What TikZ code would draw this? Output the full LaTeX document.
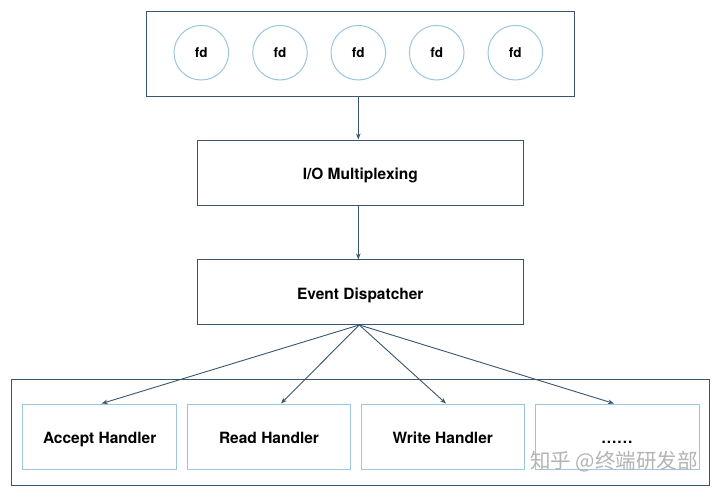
\documentclass[tikz,border=0pt]{standalone}
\usepackage{fontspec}
\setmainfont{TeX Gyre Heros}
\newfontfamily\cjkfont{Noto Sans CJK SC}
\usetikzlibrary{arrows.meta,calc}
\definecolor{darkline}{HTML}{3A5570}
\definecolor{lightline}{HTML}{9CC6DE}
\definecolor{wmgray}{HTML}{B4B4B4}
\begin{document}
\begin{tikzpicture}[x=1pt,y=-1pt,
  darkbox/.style={draw=darkline,line width=1pt,fill=white},
  lightbox/.style={draw=lightline,line width=1pt,fill=white},
  lbl/.style={font=\fontsize{15.5}{18}\selectfont\bfseries,text=black,text height=15pt,text depth=1pt},
  fdcircle/.style={circle,draw=lightline,line width=1pt,minimum size=54.6pt,inner sep=0pt,font=\fontsize{13.5}{16}\selectfont\bfseries},
  arr/.style={draw=darkline,line width=0.9pt,-{Stealth[length=6pt,width=4.5pt]}},
]
\useasboundingbox (0,0) rectangle (720,493);
\fill[white] (0,0) rectangle (720,493);

% top fd container
\node[darkbox,minimum width=428pt,minimum height=85pt,inner sep=0pt] (fdbox) at (360.3,54.2) {};
\node[fdcircle] (fd1) at (201.3,52.7) {fd};
\node[fdcircle] (fd2) at (280,52.7) {fd};
\node[fdcircle] (fd3) at (358.3,52.7) {fd};
\node[fdcircle] (fd4) at (436.7,52.7) {fd};
\node[fdcircle] (fd5) at (515.3,52.7) {fd};

% middle boxes
\node[darkbox,lbl,minimum width=326pt,minimum height=65pt,inner sep=0pt] (mux) at (360.3,172.5) {I/O Multiplexing};
\node[darkbox,lbl,minimum width=326pt,minimum height=64.5pt,inner sep=0pt] (disp) at (360.3,292.2) {Event Dispatcher};

% bottom container
\node[darkbox,minimum width=697.5pt,minimum height=106pt,inner sep=0pt] (hbox) at (360.3,432) {};
\node[lightbox,lbl,minimum width=154pt,minimum height=65pt,inner sep=0pt] (acc) at (99.7,436.5) {Accept Handler};
\node[lightbox,lbl,minimum width=163.4pt,minimum height=65pt,inner sep=0pt] (rd) at (269,436.5) {Read Handler};
\node[lightbox,lbl,minimum width=163pt,minimum height=65pt,inner sep=0pt] (wr) at (442.8,436.5) {Write Handler};
\node[lightbox,lbl,minimum width=164pt,minimum height=65pt,inner sep=0pt] (more) at (617,436.5) {.\kern1pt.\kern1pt.\kern1pt.\kern1pt.\kern1pt.};

% connectors
\draw[arr] (fdbox.south -| fd3) -- (mux.north -| fd3);
\draw[arr] (mux.south -| fd3) -- (disp.north -| fd3);
\coordinate (fan) at ($(disp.south)+(-1,0)$);
\draw[arr] (fan) -- ([xshift=2pt]acc.north);
\draw[arr] (fan) -- ([xshift=12pt]rd.north);
\draw[arr] (fan) -- ([xshift=3.2pt]wr.north);
\draw[arr] (fan) -- ([xshift=-3pt]more.north);

% watermark
\node[font=\cjkfont\fontsize{20.5}{22}\selectfont,text=wmgray,anchor=center] (wm) at (614,462) {知乎 @终端研发部};
\end{tikzpicture}
\end{document}
